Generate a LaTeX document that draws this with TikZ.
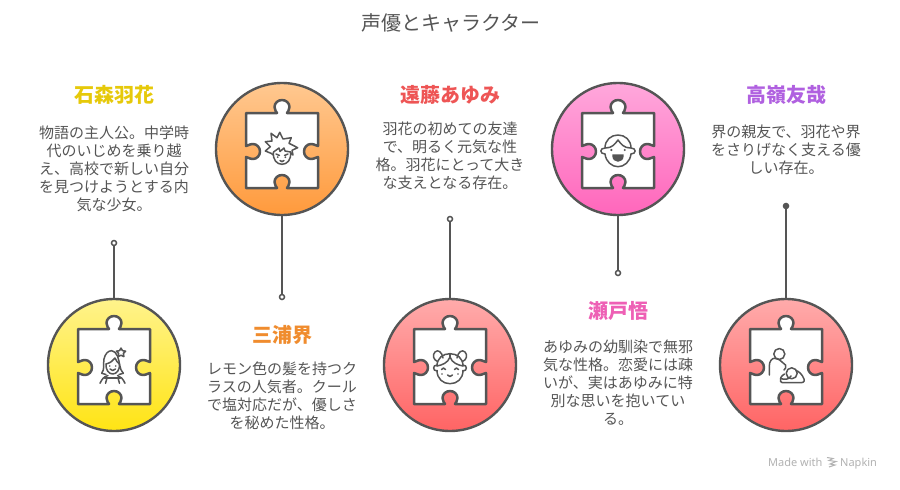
\documentclass[tikz,border=0pt]{standalone}
\usepackage{fontspec}
\setmainfont{Noto Sans CJK JP}
\newfontfamily\latinfont{Noto Sans}
\definecolor{linegray}{HTML}{555555}
\definecolor{textgray}{HTML}{555555}
\definecolor{yellowtop}{HTML}{FFF38C}
\definecolor{yellowbot}{HTML}{FFE414}
\definecolor{orangetop}{HTML}{FFC890}
\definecolor{orangebot}{HTML}{FF9A3C}
\definecolor{redtop}{HTML}{FFABAB}
\definecolor{redbot}{HTML}{FF6464}
\definecolor{pinktop}{HTML}{FFA8DC}
\definecolor{pinkbot}{HTML}{FF66BB}
\definecolor{yellowhead}{HTML}{E6C90A}
\definecolor{orangehead}{HTML}{F08C2E}
\definecolor{redhead}{HTML}{EE5555}
\definecolor{pinkhead}{HTML}{EE60B5}
\definecolor{purplehead}{HTML}{B060E0}
\tikzset{
  charcircle/.style={circle, draw=linegray, line width=2.4pt, minimum size=132pt, inner sep=0pt},
  pinnode/.style={circle, draw=linegray, line width=1.5pt, fill=white, minimum size=5pt, inner sep=0pt},
  stem/.style={draw=linegray, line width=2.2pt},
  piece/.style={draw=linegray, line width=2.5pt, fill=white, line join=round},
  icon/.style={draw=linegray, line width=1.5pt, line cap=round, line join=round},
  heading/.style={font=\fontsize{20}{24}\selectfont\bfseries, anchor=center},
  bodytext/.style={font=\fontsize{15}{18}\selectfont, text=textgray, align=center, anchor=north},
}
% Puzzle piece centred on a circle
\newcommand{\puzzlepiece}[2]{%
\begin{scope}[shift={(#1,#2)}]
\draw[piece] (-36,-36) -- (-5,-36) .. controls (-5.5,-37) and (-7.5,-39) .. (-7.5,-42)
  .. controls (-7.5,-46) and (-4,-49) .. (0,-49) .. controls (4,-49) and (7.5,-46) .. (7.5,-42)
  .. controls (7.5,-39) and (5.5,-37) .. (5,-36) -- (36,-36) -- (36,-3)
  .. controls (35,-2.5) and (33,-5) .. (29,-5) .. controls (25,-5) and (22,-1.5) .. (22,2.5)
  .. controls (22,6.5) and (25,10) .. (29,10) .. controls (33,10) and (35,7.5) .. (36,8)
  -- (36,39) -- (5,39) .. controls (5.5,38) and (7.5,36) .. (7.5,33)
  .. controls (7.5,29) and (4,26) .. (0,26) .. controls (-4,26) and (-7.5,29) .. (-7.5,33)
  .. controls (-7.5,36) and (-5.5,38) .. (-5,39) -- (-36,39) -- (-36,8)
  .. controls (-35,7.5) and (-33,10) .. (-29,10) .. controls (-25,10) and (-22,6.5) .. (-22,2.5)
  .. controls (-22,-1.5) and (-25,-5) .. (-29,-5) .. controls (-33,-5) and (-35,-2.5) .. (-36,-3)
  -- cycle;
\end{scope}}
\begin{document}
\begin{tikzpicture}[x=1pt, y=-1pt]
\useasboundingbox (0,0) rectangle (900,490);
\fill[white] (0,0) rectangle (900,490);

% Title
\node[font=\fontsize{20}{24}\selectfont, text=textgray] (title) at (451,23) {声優とキャラクター};

% Circles
\node[charcircle, top color=yellowtop, bottom color=yellowbot] (ishimori) at (114,365) {};
\node[charcircle, top color=orangetop, bottom color=orangebot] (miura) at (282,149) {};
\node[charcircle, top color=redtop, bottom color=redbot] (endo) at (450,365) {};
\node[charcircle, top color=pinktop, bottom color=pinkbot] (seto) at (618,149) {};
\node[charcircle, top color=redtop, bottom color=redbot] (takane) at (786,365) {};

% Pins and stems
\node[pinnode] (ishimoripin) at (114,243) {};
\node[pinnode] (miurapin) at (282,297) {};
\node[pinnode] (endopin) at (450,219) {};
\node[pinnode] (setopin) at (618,273) {};
\node[pinnode, fill=linegray] (takanepin) at (786,206) {};
\draw[stem] (ishimoripin) -- (ishimori);
\draw[stem] (miurapin) -- (miura);
\draw[stem] (endopin) -- (endo);
\draw[stem] (setopin) -- (seto);
\draw[stem] (takanepin) -- (takane);

% Puzzle pieces
\puzzlepiece{114}{365}
\puzzlepiece{282}{149}
\puzzlepiece{450}{365}
\puzzlepiece{618}{149}
\puzzlepiece{786}{365}

% Girl with a star
\begin{scope}[shift={(114,365)}, icon]
\draw (-12.3,8.3) .. controls (-9,4) and (-11,-1) .. (-10,-6) .. controls (-9,-11) and (-6,-14.3) .. (-2.3,-14.3) .. controls (0,-14.3) and (2,-12) .. (3.5,-9);
\draw (3.5,-9) .. controls (6,-3) and (5,4) .. (9.3,8.3);
\draw (-12.3,8.3) -- (-8,9.5);
\draw (9.3,8.3) -- (5,9.5);
\draw (-8,-1) .. controls (-4,-2) and (-1,-4) .. (1,-7) .. controls (2,-4) and (4,-2) .. (5.5,-1);
\draw (-8,-1) .. controls (-8.5,5) and (-5,9) .. (-1.3,9) .. controls (2.5,9) and (6,5) .. (5.5,-1);
\draw (-4,4) .. controls (-2.5,6) and (0,6) .. (1.5,4);
\fill[linegray] (-4.3,1) circle (0.9) (1.8,1) circle (0.9);
\draw (-14,18.3) .. controls (-12,14) and (-10,11.5) .. (-6,10.5);
\draw (11,18.3) .. controls (9,14) and (7,11.5) .. (3.5,10.5);
\draw (-9.5,13) -- (6.5,13);
\draw (-7,13) -- (-8.5,18.3) (4,13) -- (5.5,18.3);
\draw (7,-17) -- (8.4,-14.4) -- (11.6,-13.8) -- (9.4,-11.6) -- (9.9,-8.4) -- (7,-9.8) -- (4.1,-8.4) -- (4.6,-11.6) -- (2.4,-13.8) -- (5.6,-14.4) -- cycle;
\end{scope}

% Boy with spiky hair
\begin{scope}[shift={(282,149)}, icon]
\draw (-8.5,6) -- (-11,4.3) -- (-16.7,2) -- (-11.7,-2.3) -- (-16.7,-7.3) -- (-10,-8) -- (-11,-15.7) -- (-5,-11.3) -- (-2.3,-16.7) -- (1,-10) -- (9.3,-11.3) -- (7,-5.7) -- (15.7,-1.3) -- (10,1.3) -- (11,6) -- (8.5,4);
\draw (-8.5,3) .. controls (-9.5,11) and (-5,15.3) .. (0,15.3) .. controls (5,15.3) and (9.5,11) .. (8.5,3);
\draw (-8.5,3) -- (-3,-1) -- (-2,2.5) -- (2,-1) -- (3,2) -- (8.5,3);
\draw (-6,5) -- (-2.5,6.5) (6,5) -- (2.5,6.5);
\fill[linegray] (-4.3,8.2) circle (1) (3.3,8.2) circle (1);
\draw (-2,11.5) .. controls (-1,13) and (1,13) .. (2,11.5);
\end{scope}

% Girl with two buns
\begin{scope}[shift={(450,365)}, icon]
\draw (-7,-7) .. controls (-8,-13) and (-12,-16) .. (-15,-13) .. controls (-18,-10) and (-16.5,-5) .. (-12.5,-3.5);
\draw (7,-7) .. controls (8,-13) and (12,-16) .. (15,-13) .. controls (18,-10) and (16.5,-5) .. (12.5,-3.5);
\draw (-13,5.3) .. controls (-13,14) and (-7,18.7) .. (0,18.7) .. controls (7,18.7) and (13,14) .. (13,5.3);
\draw (-13,1) .. controls (-13,-7) and (-7,-11.3) .. (0,-11.3) .. controls (7,-11.3) and (13,-7) .. (13,1);
\draw (0,-8) .. controls (-2,-2) and (-8,0) .. (-13,1) (0,-8) .. controls (2,-2) and (8,0) .. (13,1);
\draw (0,-11.3) -- (0,-8);
\draw (-13,0) .. controls (-17.5,0) and (-17.5,6) .. (-13,6) (13,0) .. controls (17.5,0) and (17.5,6) .. (13,6);
\draw (-8.5,4.5) .. controls (-7.5,2.5) and (-5.5,2.5) .. (-4.5,4.5) (8.5,4.5) .. controls (7.5,2.5) and (5.5,2.5) .. (4.5,4.5);
\draw (-2.5,10) .. controls (-1,12) and (1,12) .. (2.5,10);
\fill[linegray] (-8,9) circle (0.8) (8,9) circle (0.8);
\end{scope}

% Smiling face
\begin{scope}[shift={(618,149)}, icon]
\draw (-13,-1) .. controls (-13,-9) and (-7,-14) .. (0,-14) .. controls (7,-14) and (13,-9) .. (13,-1);
\draw (-13,5) .. controls (-12,13) and (-6,17.7) .. (0,17.7) .. controls (6,17.7) and (12,13) .. (13,5);
\draw (-12.3,-1) .. controls (-6,-1) and (-3,-5) .. (0,-9) .. controls (3,-5) and (6,-1) .. (12.3,-1);
\draw (-13,-1) .. controls (-18.5,-1) and (-18.5,5) .. (-13,5) (13,-1) .. controls (18.5,-1) and (18.5,5) .. (13,5);
\fill[linegray] (-6.7,1) circle (1.2) (6.7,1) circle (1.2);
\filldraw[linegray] (-5,6) -- (5,6) .. controls (5,10) and (3,12) .. (0,12) .. controls (-3,12) and (-5,10) .. (-5,6) -- cycle;
\end{scope}

% Adult and baby
\begin{scope}[shift={(786,365)}, icon]
\draw (-6.7,-11) circle (5.5);
\draw (-16.7,10) -- (-16.7,1) .. controls (-16.7,-4) and (-14,-6.7) .. (-11.5,-6.7) .. controls (-8,-6.7) and (-6,-5) .. (-4,-3) -- (-0.5,0) .. controls (0.5,2) and (-0.5,4) .. (-2,5);
\draw (5.7,8.3) circle (5.5);
\draw (-1.5,9) .. controls (-5,11) and (-6.5,14) .. (-5.5,16.5) .. controls (-5,17.7) and (-3,17.7) .. (-1,17.7) -- (15,17.7) .. controls (18,17.7) and (19,15.5) .. (18,14) .. controls (16,9) and (13,6.5) .. (10,5.5);
\draw (-5.5,13.5) .. controls (-1,15) and (3,14.5) .. (5,11);
\end{scope}

% Headings and texts
\node[heading, text=yellowhead] (ishimorihead) at (114,95) {石森羽花};
\node[bodytext] (ishimoritext) at (114,122) {物語の主人公。中学時\\代のいじめを乗り越\\え、高校で新しい自分\\を見つけようとする内\\気な少女。};
\node[heading, text=orangehead] (miurahead) at (282,335) {三浦界};
\node[bodytext] (miuratext) at (282,358) {レモン色の髪を持つク\\ラスの人気者。クール\\で塩対応だが、優しさ\\を秘めた性格。};
\node[heading, text=redhead] (endohead) at (450,95) {遠藤あゆみ};
\node[bodytext] (endotext) at (450,118) {羽花の初めての友達\\で、明るく元気な性\\格。羽花にとって大き\\な支えとなる存在。};
\node[heading, text=pinkhead] (setohead) at (618,311) {瀬戸悟};
\node[bodytext] (setotext) at (618,336) {あゆみの幼馴染で無邪\\気な性格。恋愛には疎\\いが、実はあゆみに特\\別な思いを抱いてい\\る。};
\node[heading, text=purplehead] (takanehead) at (786,95) {高嶺友哉};
\node[bodytext] (takanetext) at (786,121) {界の親友で、羽花や界\\をさりげなく支える優\\しい存在。};

% Watermark
\node[font=\latinfont\fontsize{11}{13}\selectfont, text=black!30, anchor=base west, inner sep=0pt] (madewith) at (768,466) {Made with};
\node[font=\latinfont\fontsize{11}{13}\selectfont, text=black!30, anchor=base west, inner sep=0pt] (napkin) at (840,466) {Napkin};
\draw[black!30, line width=1pt] (827,457.5) -- (833,458.5) -- (829,460.5) -- (836,461.5) -- (830,464) -- (835,465) -- (829,467);
\end{tikzpicture}
\end{document}
